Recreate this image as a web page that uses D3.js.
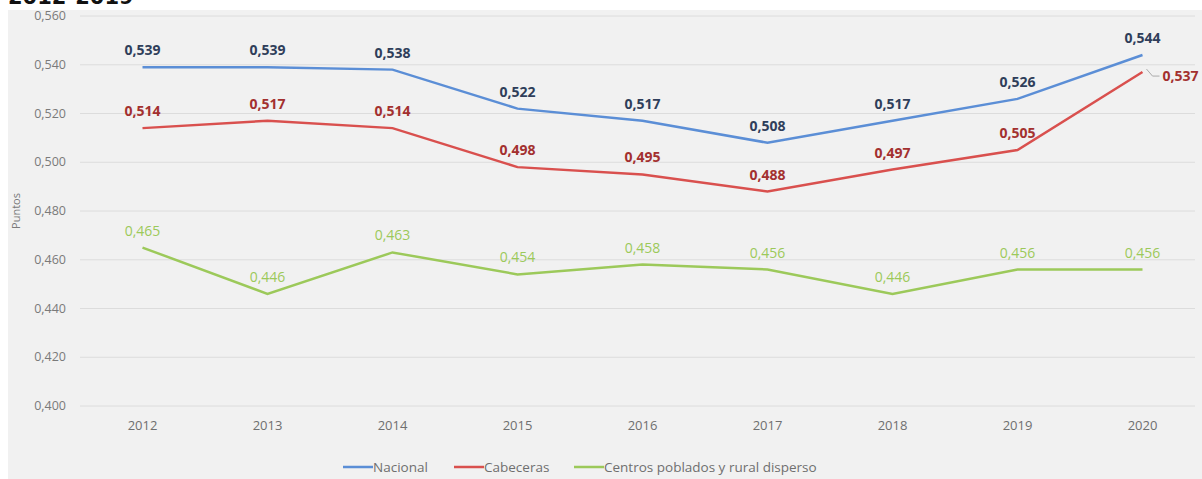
<!DOCTYPE html>
<html>
<head>
<meta charset="utf-8">
<script src="https://cdn.jsdelivr.net/npm/d3@7"></script>
<style>
  body { margin: 0; background: #fff; }
  svg { display: block; font-family: "Open Sans", sans-serif; }
</style>
</head>
<body>
<section></section>
<script>
const years = ["2012", "2013", "2014", "2015", "2016", "2017", "2018", "2019", "2020"];
const nacional = [0.539, 0.539, 0.538, 0.522, 0.517, 0.508, 0.517, 0.526, 0.544];
const cabeceras = [0.514, 0.517, 0.514, 0.498, 0.495, 0.488, 0.497, 0.505, 0.537];
const rural = [0.465, 0.446, 0.463, 0.454, 0.458, 0.456, 0.446, 0.456, 0.456];
const yTicks = [0.40, 0.42, 0.44, 0.46, 0.48, 0.50, 0.52, 0.54, 0.56];

const series = [
  { name: "Nacional", values: nacional, line: "#5b8ed6", label: "#2f3e5a" },
  { name: "Cabeceras", values: cabeceras, line: "#d9504e", label: "#a3302f" },
  { name: "Centros poblados y rural disperso", values: rural, line: "#9cc95a", label: "#9cc95a" }
];

const width = 1202, height = 479;
const svg = d3.select("section").append("svg")
  .attr("width", width)
  .attr("height", height);

// grey panel behind the chart
svg.append("rect")
  .attr("x", 8).attr("y", 10)
  .attr("width", width - 8).attr("height", height - 10)
  .attr("fill", "#f1f1f1");

// title, cut off at the top like in the source
svg.append("text")
  .attr("x", 8).attr("y", 4)
  .attr("font-family", "'DejaVu Sans', sans-serif")
  .attr("font-weight", "bold")
  .attr("font-size", 21)
  .attr("fill", "#111")
  .text("2012-2019");

const x = d3.scaleBand().domain(years).range([80, 1205]);
const y = d3.scaleLinear().domain([0.40, 0.56]).range([406, 16]);
const fmt = v => d3.format(".3f")(v).replace(".", ",");
const cx = d => x(d) + x.bandwidth() / 2;

// gridlines
svg.append("g")
  .selectAll("line")
  .data(yTicks)
  .enter()
  .append("line")
  .attr("x1", 80).attr("x2", 1195)
  .attr("y1", d => y(d)).attr("y2", d => y(d))
  .attr("stroke", "#dcdcdc")
  .attr("stroke-width", 1);

// y tick labels
svg.append("g")
  .selectAll("text")
  .data(yTicks)
  .enter()
  .append("text")
  .attr("x", 66)
  .attr("y", d => y(d) + 4)
  .attr("text-anchor", "end")
  .attr("font-size", 12.5)
  .attr("fill", "#7a7a7a")
  .text(d => fmt(d));

// x tick labels
svg.append("g")
  .selectAll("text")
  .data(years)
  .enter()
  .append("text")
  .attr("x", d => cx(d))
  .attr("y", 430)
  .attr("text-anchor", "middle")
  .attr("font-size", 13)
  .attr("fill", "#6f6f6f")
  .text(d => d);

// axis title
svg.append("text")
  .attr("transform", "translate(20,211) rotate(-90)")
  .attr("text-anchor", "middle")
  .attr("font-size", 11)
  .attr("fill", "#7a7a7a")
  .text("Puntos");

const line = d3.line()
  .x((d, i) => cx(years[i]))
  .y(d => y(d));

series.forEach(s => {
  svg.append("path")
    .datum(s.values)
    .attr("d", line)
    .attr("fill", "none")
    .attr("stroke", s.line)
    .attr("stroke-width", 2.5);
});

// data labels
series.forEach((s, si) => {
  const g = svg.append("g");
  s.values.forEach((v, i) => {
    let lx = cx(years[i]), ly = y(v) - 12, anchor = "middle";
    // last red label sits to the right with a small leader line
    if (si === 1 && i === years.length - 1) {
      g.append("polyline")
        .attr("points", [[lx + 4, y(v) - 3], [lx + 10, y(v) + 4], [lx + 17, y(v) + 4]].join(" "))
        .attr("fill", "none")
        .attr("stroke", "#aaa")
        .attr("stroke-width", 1);
      lx = lx + 20;
      ly = y(v) + 9;
      anchor = "start";
    }
    g.append("text")
      .attr("x", lx)
      .attr("y", ly)
      .attr("text-anchor", anchor)
      .attr("font-size", 14)
      .attr("font-weight", si === 2 ? "normal" : "bold")
      .attr("fill", s.label)
      .text(fmt(v));
  });
});

// legend
const legendX = [343, 454, 574];
const legend = svg.append("g");
series.forEach((s, i) => {
  legend.append("line")
    .attr("x1", legendX[i]).attr("x2", legendX[i] + 30)
    .attr("y1", 467).attr("y2", 467)
    .attr("stroke", s.line)
    .attr("stroke-width", 2.5);
  legend.append("text")
    .attr("x", legendX[i] + 30)
    .attr("y", 472)
    .attr("font-size", 13.5)
    .attr("fill", "#6f6f6f")
    .text(s.name);
});
</script>
</body>
</html>
